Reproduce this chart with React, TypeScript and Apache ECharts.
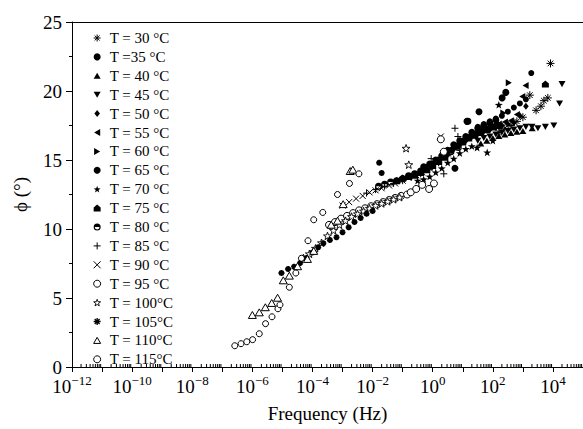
import React, { useEffect, useRef } from 'react';
import * as echarts from 'echarts';

const FONT = 'Liberation Serif';

const NAMES = [
  'T = 30 °C', 'T =35 °C', 'T = 40 °C', 'T = 45 °C', 'T = 50 °C', 'T = 55 °C',
  'T = 60 °C', 'T = 65 °C', 'T = 70 °C', 'T = 75 °C', 'T = 80 °C', 'T = 85 °C',
  'T = 90 °C', 'T = 95 °C', 'T = 100°C', 'T = 105°C', 'T = 110°C', 'T = 115°C',
];

// [frequency (Hz), phase angle (deg)]
const T30: [number, number][] = [[158, 17.0], [251, 17.3], [398, 17.5], [631, 17.8], [1000, 18.1], [1700, 19.7], [2750, 18.6], [3980, 18.9], [5000, 19.3], [6760, 19.5], [8300, 22.0]];
const T35: [number, number][] = [[31.6, 17.4], [50.1, 17.6], [79.4, 17.8], [126, 18.0], [200, 18.2], [316, 18.5], [501, 18.8], [794, 19.1], [1260, 19.4], [1900, 21.3]];
const T40: [number, number][] = [[39.8, 16.2], [63.1, 16.4], [100, 16.6], [158, 16.75], [251, 16.85], [398, 16.95], [631, 17.05], [1000, 17.1], [2040, 17.3]];
const T45: [number, number][] = [[31.6, 16.4], [50.1, 16.6], [79.4, 16.7], [126, 16.85], [200, 17.0], [316, 17.1], [501, 17.2], [794, 17.3], [1260, 17.4], [2000, 17.4], [3160, 17.3], [5600, 17.4], [10700, 17.5], [16600, 19.1], [20000, 20.5]];
const T50: [number, number][] = [[3.16, 15.4], [5.01, 15.8], [7.94, 16.1], [12.6, 16.4], [20, 16.7], [31.6, 16.9], [50.1, 17.1], [79.4, 17.2], [126, 17.35], [200, 17.5], [316, 17.6], [501, 17.7], [794, 18.2], [1260, 18.9]];
const T55: [number, number][] = [[2.51, 15.4], [3.98, 15.8], [6.31, 16.15], [10, 16.5], [15.8, 16.75], [25.1, 17.0], [39.8, 17.2], [63.1, 17.35], [100, 17.5], [158, 17.6], [251, 17.75], [398, 17.85], [631, 18.3], [955, 19.6], [1230, 20.4]];
const T60: [number, number][] = [[1, 14.6], [1.58, 14.95], [2.51, 15.3], [3.98, 15.7], [6.31, 16.05], [10, 16.4], [15.8, 16.65], [25.1, 16.9], [39.8, 17.1], [63.1, 17.25], [100, 17.4], [158, 17.6], [224, 18.4], [340, 20.6]];
const T65: [number, number][] = [[0.501, 14.5], [0.794, 14.7], [1.26, 15.0], [2.0, 15.3], [3.16, 15.7], [5.01, 16.1], [5.5, 14.4], [7.94, 16.4], [12.6, 16.7], [13.8, 17.8], [20, 17.0], [31.6, 17.3], [34.7, 18.5], [50.1, 17.5], [79.4, 17.7], [126, 17.9], [204, 19.5], [270, 19.9]];
const T70: [number, number][] = [[0.316, 13.5], [0.501, 13.6], [0.794, 13.8], [1.26, 14.1], [2.0, 14.4], [3.16, 14.8], [5.01, 15.1], [7.94, 15.5], [12.6, 15.8], [20, 16.0], [30, 15.9], [65, 15.55], [100, 16.4], [158, 19.0]];
const T75: [number, number][] = [[0.063, 13.5], [0.1, 13.7], [0.158, 13.8], [0.251, 13.9], [0.398, 14.1], [0.631, 14.3], [1, 14.6], [1.58, 14.9], [2.51, 15.2], [3.98, 15.7], [6.31, 16.0], [10, 16.3], [15.8, 16.6], [25.1, 16.8], [39.8, 17.0], [63.1, 17.2], [100, 17.4], [158, 17.5], [5600, 20.5]];
const T80: [number, number][] = [[0.0158, 13.1], [0.0251, 13.25], [0.0398, 13.4], [0.0631, 13.5], [0.1, 13.65], [0.158, 13.85], [0.251, 14.0], [0.398, 14.2], [0.631, 14.45], [1, 14.7], [1.58, 15.0], [2.51, 15.3], [3.98, 15.6], [7.1, 15.9], [14.8, 17.8]];
const T85: [number, number][] = [[0.00631, 12.6], [0.0126, 12.85], [0.0251, 13.1], [0.05, 13.3], [0.1, 13.5], [0.2, 13.8], [0.398, 14.0], [0.794, 14.3], [0.89, 15.1], [1.58, 14.8], [2.34, 14.0], [3.16, 15.3], [5.5, 17.3], [6.9, 16.7]];
const T90: [number, number][] = [[0.001, 11.7], [0.00166, 11.95], [0.00282, 12.2], [0.00468, 12.4], [0.00794, 12.65], [0.0126, 12.8], [0.02, 12.95], [0.0355, 13.15], [0.0562, 13.3], [0.1, 13.5], [0.158, 13.7], [0.282, 13.9], [0.447, 14.1], [0.794, 14.4], [1.26, 14.8], [1.86, 16.7]];
const T95: [number, number][] = [[3.55e-4, 10.3], [5.6e-4, 10.5], [8.9e-4, 10.75], [1.41e-3, 10.95], [2.24e-3, 11.15], [3.55e-3, 11.35], [5.6e-3, 11.5], [8.9e-3, 11.65], [0.0141, 11.8], [0.0224, 11.95], [0.0355, 12.1], [0.056, 12.25], [0.089, 12.4], [0.141, 12.5], [0.186, 12.66], [0.282, 12.9], [0.447, 13.2], [0.76, 12.9], [1.1, 13.3], [1.86, 16.5], [2.34, 15.6]];
const T100: [number, number][] = [[5e-5, 7.9], [7.9e-5, 8.2], [1.26e-4, 8.6], [2e-4, 9.0], [3.16e-4, 9.5], [5e-4, 9.9], [7.9e-4, 10.3], [1.26e-3, 10.6], [2e-3, 10.9], [3.16e-3, 11.1], [5e-3, 11.3], [7.9e-3, 11.5], [0.0126, 11.7], [0.02, 11.85], [0.0316, 12.0], [0.05, 12.15], [0.079, 12.3], [0.13, 15.85], [0.16, 14.66]];
const T105: [number, number][] = [[9.3e-6, 6.81], [1.55e-5, 7.1], [2.45e-5, 7.27], [3.9e-5, 7.54], [6.3e-5, 7.9], [1e-4, 8.3], [1.55e-4, 8.67], [2.3e-4, 8.96], [3.8e-4, 9.2], [6.3e-4, 9.4], [1e-3, 9.76], [1.6e-3, 10.12], [2.5e-3, 10.5], [4e-3, 10.8], [6.3e-3, 11.1], [0.01, 11.3], [0.0166, 14.8], [0.02, 14.06]];
const T110: [number, number][] = [[1e-6, 3.77], [1.7e-6, 3.96], [2.7e-6, 4.33], [4.4e-6, 4.64], [6.9e-6, 5.02], [1.07e-5, 6.28], [1.7e-5, 6.62], [3.2e-5, 7.3], [6.8e-5, 7.83], [1.1e-4, 8.41], [4.2e-4, 10.31], [6.8e-4, 10.6], [1.05e-3, 11.8], [1.8e-3, 14.2], [2.2e-3, 14.3]];
const T115: [number, number][] = [[2.6e-7, 1.54], [4.2e-7, 1.69], [6.5e-7, 1.83], [1.02e-6, 1.98], [1.7e-6, 2.41], [2.75e-6, 3.14], [4.5e-6, 3.64], [7.1e-6, 4.22], [8.3e-6, 4.51], [1.7e-5, 5.78], [2.8e-5, 6.81], [4.3e-5, 7.88], [7.1e-5, 9.15], [1.1e-4, 10.67], [2.2e-4, 11.2], [6.8e-4, 12.5], [1.7e-3, 13.3], [3.5e-3, 14.0]];

const X_MIN_EXP = -12;
const X_MAX_EXP = 5;
const MINOR_FACTORS = [2, 3, 4, 5, 6, 7, 8, 9];

const AST = 'path://M0,5L10,5M5,0L5,10M1.5,1.5L8.5,8.5M1.5,8.5L8.5,1.5';
const PLUS = 'path://M0,5L10,5M5,0L5,10';
const CROSS = 'path://M1,1L9,9M1,9L9,1';
const STAR = 'path://M5,0L6.18,3.38L9.76,3.45L6.9,5.62L7.94,9.05L5,7L2.06,9.05L3.1,5.62L0.24,3.45L3.82,3.38Z';
const HOUSE = 'path://M5,0L10,4L10,10L0,10L0,4Z';
const HALF = 'path://M0,5A5,5,0,1,1,10,5A5,5,0,1,1,0,5Z M1.6,5A3.4,3.4,0,1,0,8.4,5A3.4,3.4,0,1,0,1.6,5Z M1.6,5A3.4,3.4,0,0,1,8.4,5Z';
const TRI_UP = 'path://M5,0L10,8.66L0,8.66Z';
const TRI_DN = 'path://M0,0L10,0L5,8.66Z';
const TRI_L = 'path://M0,5L8.66,0L8.66,10Z';
const TRI_R = 'path://M0,0L8.66,5L0,10Z';
const DIAM = 'path://M5,0L9,5L5,10L1,5Z';
const CIRC = 'circle';

type Def = { data: [number, number][]; symbol: string; size: number; fill: string; bw: number; lbw?: number };
const DEFS: Def[] = [
  { data: T30, symbol: AST, size: 8, fill: '#000', bw: 1 },
  { data: T35, symbol: CIRC, size: 6, fill: '#000', bw: 0 },
  { data: T40, symbol: TRI_UP, size: 7, fill: '#000', bw: 0 },
  { data: T45, symbol: TRI_DN, size: 7, fill: '#000', bw: 0 },
  { data: T50, symbol: DIAM, size: 7, fill: '#000', bw: 0 },
  { data: T55, symbol: TRI_L, size: 7, fill: '#000', bw: 0 },
  { data: T60, symbol: TRI_R, size: 7, fill: '#000', bw: 0 },
  { data: T65, symbol: CIRC, size: 7, fill: '#000', bw: 0 },
  { data: T70, symbol: STAR, size: 8, fill: '#000', bw: 0 },
  { data: T75, symbol: HOUSE, size: 7, fill: '#000', bw: 0 },
  { data: T80, symbol: HALF, size: 7, fill: '#000', bw: 0 },
  { data: T85, symbol: PLUS, size: 7, fill: '#000', bw: 1 },
  { data: T90, symbol: CROSS, size: 6, fill: '#000', bw: 1 },
  { data: T95, symbol: CIRC, size: 7, fill: '#fff', bw: 1 },
  { data: T100, symbol: STAR, size: 8, fill: '#fff', bw: 0.9 },
  { data: T105, symbol: AST, size: 6, fill: '#000', bw: 1.8, lbw: 1.3 },
  { data: T110, symbol: TRI_UP, size: 8, fill: '#fff', bw: 1 },
  { data: T115, symbol: CIRC, size: 6, fill: '#fff', bw: 1 },
];

export default function App() {
  const ref = useRef<HTMLDivElement>(null);
  useEffect(() => {
    document.body.style.margin = '0';
    const chart = echarts.init(ref.current!, null, { renderer: 'svg' });

    const minorTicks: number[][] = [];
    for (let e = X_MIN_EXP; e < X_MAX_EXP; e++) {
      for (const k of MINOR_FACTORS) minorTicks.push([k * Math.pow(10, e), 0]);
    }

    const scatter = DEFS.map((d, i) => ({
      type: 'scatter',
      name: NAMES[i],
      xAxisIndex: 0,
      yAxisIndex: 0,
      data: d.data,
      symbol: d.symbol,
      symbolSize: d.size,
      symbolKeepAspect: true,
      itemStyle: { color: d.fill, borderColor: '#000', borderWidth: d.bw, opacity: 1 },
      emphasis: { disabled: true },
    }));

    const legendData = DEFS.map((d, i) => ({
      name: NAMES[i],
      icon: d.symbol,
      itemStyle: { color: d.fill, borderColor: '#000', borderWidth: d.lbw ?? d.bw },
    }));

    chart.setOption({
      animation: false,
      backgroundColor: '#fff',
      grid: { left: 72, right: 0, top: 22, bottom: 62, containLabel: false, outerBoundsMode: 'none' },
      legend: {
        data: legendData,
        orient: 'vertical',
        left: 88,
        top: 25,
        itemWidth: 7,
        itemHeight: 7,
        itemGap: 2.9,
        symbolKeepAspect: true,
        selectedMode: false,
        textStyle: { fontFamily: FONT, fontSize: 15, lineHeight: 16, color: '#000', padding: [0, 0, 0, 4] },
      },
      xAxis: [
        {
          type: 'log', logBase: 10, min: Math.pow(10, X_MIN_EXP), max: Math.pow(10, X_MAX_EXP),
          position: 'bottom', show: false,
        },
        {
          type: 'value', min: X_MIN_EXP, max: X_MAX_EXP, interval: 1, position: 'bottom',
          name: 'Frequency (Hz)', nameLocation: 'middle', nameGap: 37,
          nameTextStyle: { fontFamily: FONT, fontSize: 19, color: '#000' },
          axisLine: { show: true, onZero: false, lineStyle: { color: '#000', width: 1 } },
          axisTick: { show: true, length: 5, lineStyle: { color: '#000' } },
          splitLine: { show: false },
          axisLabel: {
            margin: 7,
            color: '#000',
            formatter: (v: number) => (v % 2 === 0 ? `{b|10}{s|${v < 0 ? '\u2212' : ''}${Math.abs(v)}}` : ''),
            rich: {
              b: { fontFamily: FONT, fontSize: 19, color: '#000', lineHeight: 22, verticalAlign: 'bottom' },
              s: { fontFamily: FONT, fontSize: 13, color: '#000', lineHeight: 12, verticalAlign: 'top' },
            },
          },
        },
        {
          type: 'value', min: 0, max: 1, position: 'top',
          axisLine: { show: true, onZero: false, lineStyle: { color: '#000', width: 1 } },
          axisTick: { show: false }, axisLabel: { show: false }, splitLine: { show: false },
        },
      ],
      yAxis: [
        {
          type: 'value', min: 0, max: 25, interval: 5, position: 'left',
          name: 'ϕ (°)', nameLocation: 'middle', nameGap: 42, nameRotate: 90,
          nameTextStyle: { fontFamily: FONT, fontSize: 19, color: '#000' },
          axisLine: { show: true, onZero: false, lineStyle: { color: '#000', width: 1 } },
          axisTick: { show: true, length: 6, lineStyle: { color: '#000' } },
          minorTick: { show: true, splitNumber: 2, length: 3, lineStyle: { color: '#000' } },
          splitLine: { show: false },
          minorSplitLine: { show: false },
          axisLabel: { fontFamily: FONT, fontSize: 19, color: '#000', margin: 10 },
        },
      ],
      series: [
        ...scatter,
        {
          type: 'custom',
          name: 'minorTicks',
          xAxisIndex: 0,
          yAxisIndex: 0,
          silent: true,
          clip: false,
          data: minorTicks,
          renderItem: (_params: any, api: any) => {
            const p = api.coord([api.value(0), api.value(1)]);
            return {
              type: 'line',
              shape: { x1: p[0], y1: p[1], x2: p[0], y2: p[1] - 3 },
              style: { stroke: '#000', lineWidth: 1 },
            };
          },
        },
      ],
    });
    return () => chart.dispose();
  }, []);
  return <div ref={ref} style={{ width: 583, height: 429 }} />;
}
